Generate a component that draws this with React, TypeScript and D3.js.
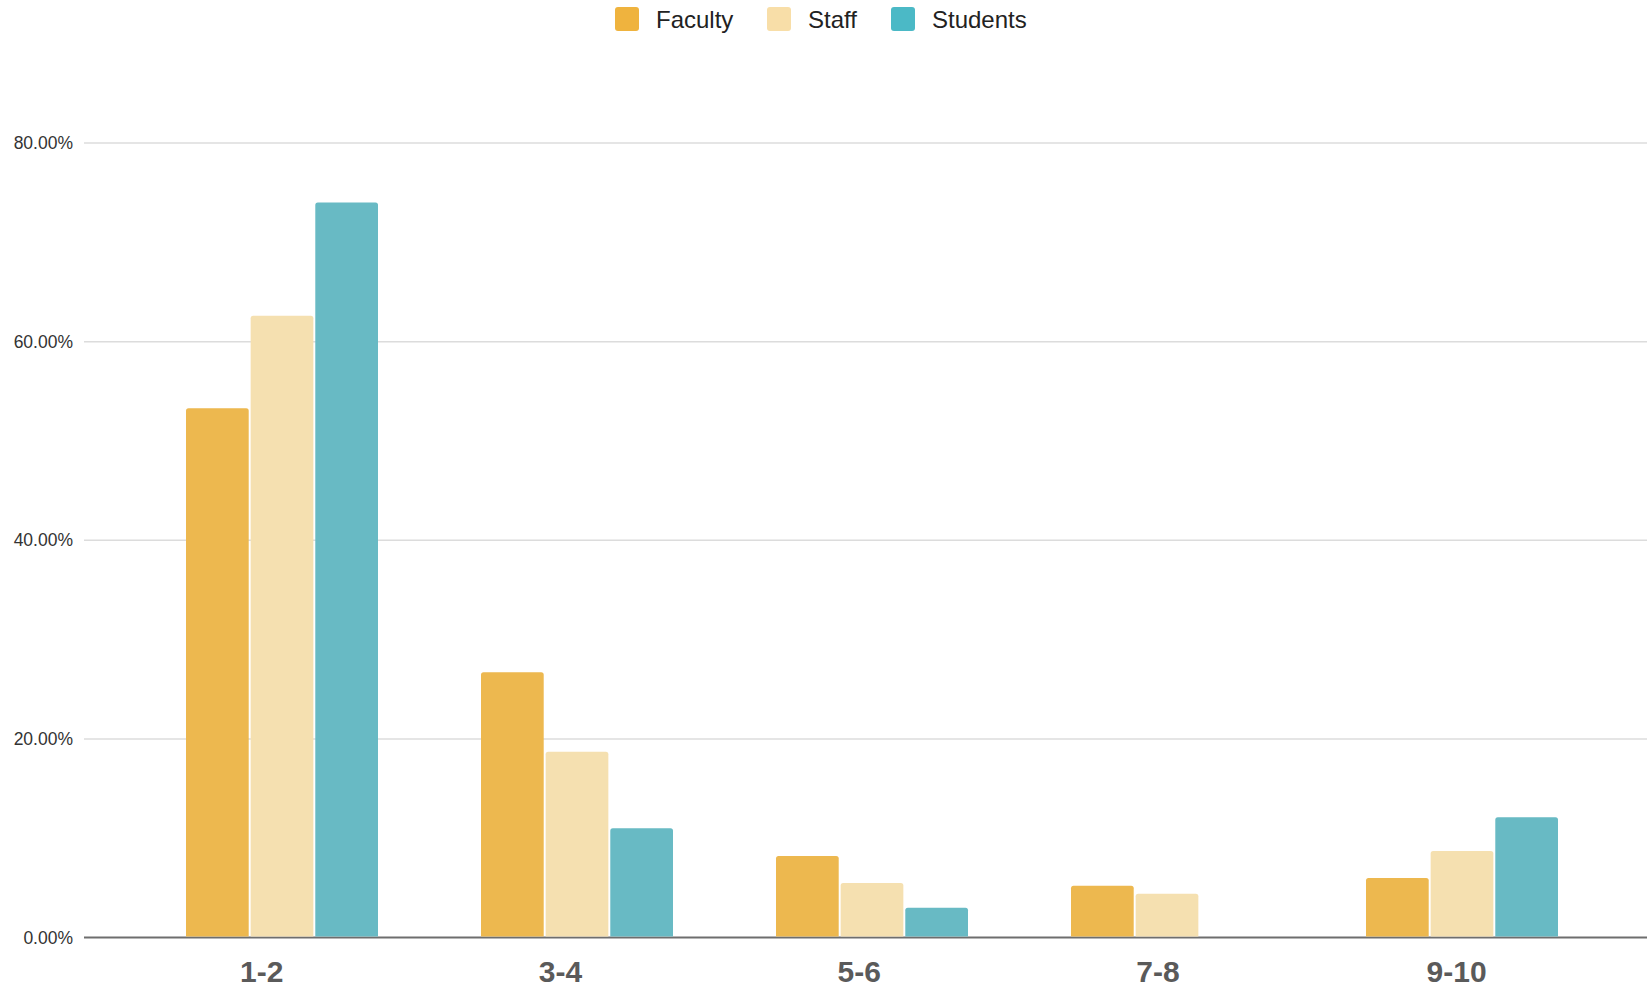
import React from 'react';
import * as d3 from 'd3';

// chart data
const categories = ['1-2', '3-4', '5-6', '7-8', '9-10'];
const seriesNames = ['Faculty', 'Staff', 'Students'];
const faculty = [53.3, 26.7, 8.2, 5.2, 6.0];
const staff = [62.6, 18.7, 5.5, 4.4, 8.7];
const students = [74.0, 11.0, 3.0, 0, 12.1];
const yTicks = [0, 20, 40, 60, 80];

const barColors = ['#edb84f', '#f5e0b0', '#68bac4'];
const legendColors = ['#efb33e', '#f8dea8', '#4bb9c6'];

const W = 1647;
const H = 986;
const FONT = '"Liberation Sans", Arial, sans-serif';

// top-rounded bar path
function barPath(x: number, y: number, w: number, h: number, r: number) {
  if (h <= 0) return '';
  const rr = Math.min(r, h, w / 2);
  return `M${x},${y + h}V${y + rr}Q${x},${y} ${x + rr},${y}H${x + w - rr}Q${x + w},${y} ${x + w},${y + rr}V${y + h}Z`;
}

const App = () => {
  const axisLeft = 84;
  const values = [faculty, staff, students];

  // bar groups
  const x0 = d3.scaleBand()
    .domain(categories)
    .range([134.5, 1609.5]);

  // category labels sit on a slightly wider band than the bars
  const xLabel = d3.scaleBand()
    .domain(categories)
    .range([112.3, 1606]);

  const x1 = d3.scaleBand()
    .domain(seriesNames)
    .range([0, 192])
    .paddingInner(0.03);

  const y = d3.scaleLinear()
    .domain([0, 80])
    .range([937.5, 143]);

  const groupOffset = (x0.bandwidth() - 192) / 2;

  // legend layout
  const legend = [
    { name: 'Faculty', sx: 615, tx: 656 },
    { name: 'Staff', sx: 767, tx: 808 },
    { name: 'Students', sx: 891, tx: 932 },
  ];

  return (
    <div style={{ position: 'absolute', left: 0, top: 0 }}>
      <svg width={W} height={H} style={{ display: 'block', background: '#fff' }}>
        {/* legend */}
        {legend.map((d, i) => (
          <g key={d.name}>
            <rect x={d.sx} y={7} width={24} height={24} rx={3} fill={legendColors[i]} />
            <text x={d.tx} y={19} dominantBaseline="central" fontFamily={FONT}
              fontSize={24} fill="#222">{d.name}</text>
          </g>
        ))}

        {/* gridlines and y labels */}
        {yTicks.map(t => (
          <g key={t}>
            <line x1={axisLeft} x2={W} y1={y(t)} y2={y(t)}
              stroke={t === 0 ? '#6e6e6e' : '#dcdcdc'} strokeWidth={t === 0 ? 2 : 1.5} />
            <text x={73} y={y(t)} textAnchor="end" dominantBaseline="central"
              fontFamily={FONT} fontSize={17.5} fill="#333">{t.toFixed(2)}%</text>
          </g>
        ))}

        {/* bars */}
        {categories.map((c, ci) => (
          <g key={c} transform={`translate(${(x0(c) ?? 0) + groupOffset},0)`}>
            {seriesNames.map((s, si) => {
              const v = values[si][ci];
              const top = y(v);
              return (
                <path key={s}
                  d={barPath(x1(s) ?? 0, top, x1.bandwidth(), y(0) - 1 - top, 2.5)}
                  fill={barColors[si]} />
              );
            })}
          </g>
        ))}

        {/* x labels */}
        {categories.map(c => (
          <text key={c} x={(xLabel(c) ?? 0) + xLabel.bandwidth() / 2} y={982}
            textAnchor="middle" fontFamily={FONT} fontWeight="bold"
            fontSize={30} fill="#5a5a5a">{c}</text>
        ))}
      </svg>
    </div>
  );
};

export default App;
